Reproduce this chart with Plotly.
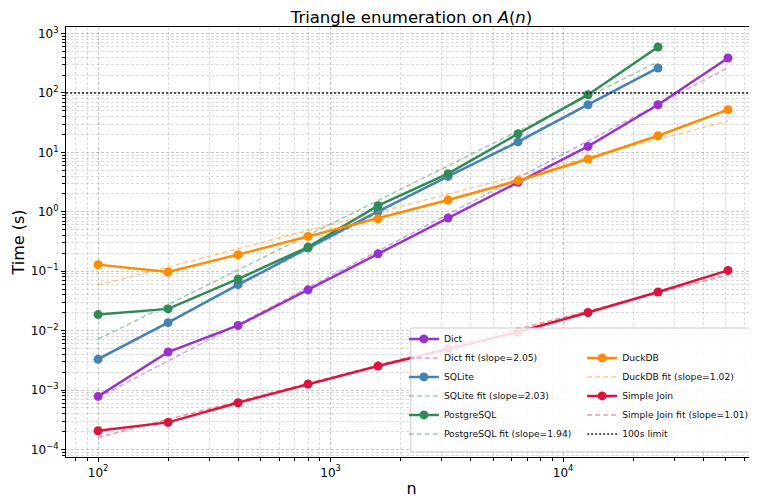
import numpy as np
import plotly.graph_objects as go

# ---------------- data ----------------
n_values = [100, 200, 400, 800, 1600, 3200, 6400, 12800, 25600, 51200]

dict_times = [7.8e-4, 4.36e-3, 0.0122, 0.0485, 0.197, 0.787, 3.13, 12.6, 63.5, 388]
sqlite_times = [3.3e-3, 0.0136, 0.0593, 0.246, 1.02, 3.94, 15.0, 63.5, 264]
postgres_times = [0.0186, 0.0232, 0.074, 0.255, 1.27, 4.38, 20.6, 93.6, 594]
duckdb_times = [0.129, 0.097, 0.19, 0.385, 0.765, 1.58, 3.34, 7.74, 19.1, 52.4]
simple_times = [2.06e-4, 2.85e-4, 6.1e-4, 1.26e-3, 2.54e-3, 4.9e-3, 9.46e-3, 0.0202, 0.0447, 0.103]

series_names = ["Dict", "SQLite", "PostgreSQL", "DuckDB", "Simple Join"]
fit_slopes = [2.05, 2.03, 1.94, 1.02, 1.01]
limit_value = [100, 100]
limit_label = "100s limit"

x_tick_vals = [1e2, 1e3, 1e4]
x_tick_text = ["10<sup>2</sup>", "10<sup>3</sup>", "10<sup>4</sup>"]
y_tick_vals = [1e-4, 1e-3, 1e-2, 1e-1, 1e0, 1e1, 1e2, 1e3]
y_tick_text = ["10<sup>−4</sup>", "10<sup>−3</sup>", "10<sup>−2</sup>", "10<sup>−1</sup>",
               "10<sup>0</sup>", "10<sup>1</sup>", "10<sup>2</sup>", "10<sup>3</sup>"]

# ---------------- style ----------------
colors = ["#9932CC", "#4682B4", "#2E8B57", "#FF8C00", "#DC143C"]
fit_colors = ["rgba(153,50,204,0.45)", "rgba(70,130,180,0.45)", "rgba(46,139,87,0.45)",
              "rgba(255,140,0,0.45)", "rgba(220,20,60,0.45)"]
legend_ids = ["legend", "legend", "legend", "legend2", "legend2"]
FONT = "DejaVu Sans"

all_times = [dict_times, sqlite_times, postgres_times, duckdb_times, simple_times]

x_range = [1.862, 4.834]
y_range = [-4.128, 3.111]

fig = go.Figure()

for name, times, slope, col, fcol, lg in zip(series_names, all_times, fit_slopes,
                                              colors, fit_colors, legend_ids):
    xs = np.array(n_values[:len(times)], dtype=float)
    ys = np.array(times, dtype=float)
    fig.add_trace(go.Scatter(
        x=xs, y=ys, mode="lines+markers", name=name, legend=lg,
        line=dict(color=col, width=2.5),
        marker=dict(color=col, size=9),
    ))
    lx, ly = np.log10(xs), np.log10(ys)
    intercept = ly.mean() - slope * lx.mean()
    fig.add_trace(go.Scatter(
        x=xs, y=10 ** (intercept + slope * lx), mode="lines",
        name=f"{name} fit (slope={slope:.2f})", legend=lg,
        line=dict(color=fcol, width=1.5, dash="5px,3px"),
    ))

fig.add_trace(go.Scatter(
    x=[10 ** x_range[0], 10 ** x_range[1]], y=limit_value, mode="lines",
    name=limit_label, legend="legend2",
    line=dict(color="#222222", width=1.5, dash="2px,2px"),
))

grid_major = "rgba(0,0,0,0.22)"
grid_minor = "rgba(0,0,0,0.14)"
minor_x = [k * 10 ** e for e in range(1, 5) for k in range(2, 10)]
minor_y = [k * 10 ** e for e in range(-5, 4) for k in range(2, 10)]

axis_common = dict(
    type="log", showline=True, linecolor="black", linewidth=1.2,
    ticks="outside", ticklen=4, tickwidth=1, tickcolor="black",
    tickfont=dict(family=FONT, size=12, color="black"),
    showgrid=True, gridcolor=grid_major, gridwidth=0.8, griddash="3px,2px",
    zeroline=False, automargin=False,
)

fig.update_xaxes(
    **axis_common, range=x_range, mirror=True,
    tickmode="array", tickvals=x_tick_vals, ticktext=x_tick_text,
    minor=dict(tickmode="array", tickvals=minor_x, ticks="outside", ticklen=2.5,
               tickcolor="black", showgrid=True, gridcolor=grid_minor,
               gridwidth=0.7, griddash="3px,2px"),
    title=dict(text="n", font=dict(family=FONT, size=16, color="black"), standoff=4),
)
fig.update_yaxes(
    **axis_common, range=y_range,
    tickmode="array", tickvals=y_tick_vals, ticktext=y_tick_text,
    minor=dict(tickmode="array", tickvals=minor_y, ticks="outside", ticklen=2.5,
               tickcolor="black", showgrid=True, gridcolor=grid_minor,
               gridwidth=0.7, griddash="3px,2px"),
    title=dict(text="Time (s)", font=dict(family=FONT, size=16, color="black"), standoff=2),
)

legend_common = dict(
    bgcolor="rgba(0,0,0,0)", borderwidth=0, orientation="v",
    font=dict(family=FONT, size=9.2, color="#111111"),
    itemwidth=30, yanchor="bottom", y=0.02, xanchor="left",
    tracegroupgap=0,
)

# page is offset by the default 8px body margin: figure is sized to fit the window
fig.update_layout(
    width=749, height=490,
    margin=dict(l=58, r=0, t=19, b=41),
    paper_bgcolor="white", plot_bgcolor="white",
    title=dict(text="Triangle enumeration on <i>A</i>(<i>n</i>)",
               font=dict(family=FONT, size=16.5, color="black"),
               x=0.5, xref="paper", xanchor="center", y=0.994, yanchor="top"),
    legend=dict(**legend_common, x=0.489),
    legend2=dict(**legend_common, x=0.747),
    shapes=[dict(type="rect", xref="paper", yref="paper", layer="above",
                 x0=0.499, x1=0.997, y0=0.012, y1=0.3,
                 fillcolor="rgba(255,255,255,0.85)",
                 line=dict(color="#cccccc", width=1))],
    showlegend=True,
)

fig.write_html("out.html")
